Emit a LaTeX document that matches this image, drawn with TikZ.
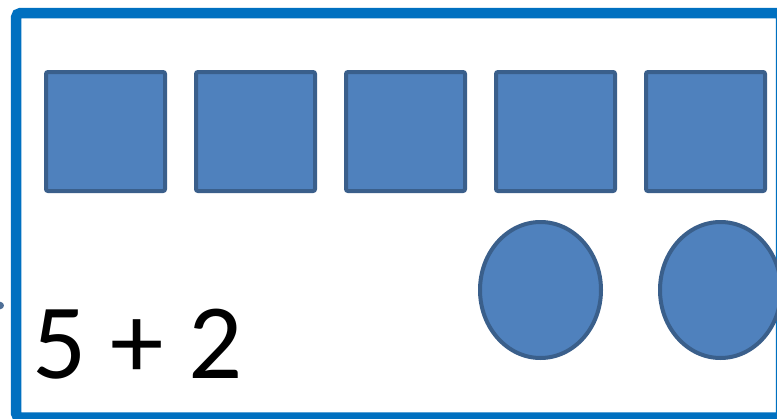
\documentclass[tikz,border=0pt]{standalone}
\usepackage{fontspec}
\setmainfont{Carlito}
\usetikzlibrary{shapes.geometric}
\definecolor{frameblue}{HTML}{0070C0}
\definecolor{shapefill}{HTML}{4F81BD}
\definecolor{shapeline}{HTML}{3A5F8B}
\tikzset{
  sq/.style={draw=shapeline, fill=shapefill, line width=4pt, rounded corners=2pt,
    minimum width=119pt, minimum height=119pt, inner sep=0pt, outer sep=0pt},
  ell/.style={ellipse, draw=shapeline, fill=shapefill, line width=4pt,
    minimum width=121pt, minimum height=136pt, inner sep=0pt, outer sep=0pt},
}
\begin{document}
\begin{tikzpicture}[x=1pt,y=-1pt]
\useasboundingbox (0,0) rectangle (777,418);
\clip (0,0) rectangle (777,418);
\fill[white] (0,0) rectangle (777,418);
% frame
\draw[frameblue, line width=10.5pt, rounded corners=4pt] (16.2,13.2) rectangle (781,417.5);
% small cut-off mark at left edge
\fill[shapeline!90] (-3,300.5) -- (2,302.5) .. controls (4.5,304) and (4.5,307) .. (2,308.5) -- (-3,310.5) -- cycle;
% squares
\foreach \i/\x in {1/105.5,2/255.5,3/405.5,4/555.5,5/705.5}
  \node[sq] (s\i) at (\x,131.5) {};
% circles
\node[ell] (c1) at (540.5,290) {};
\node[ell] (c2) at (720.5,290) {};
% text
\node[anchor=base west, inner sep=0pt, font=\fontsize{107}{107}\selectfont] (t) at (32,378) {5 + 2};
\end{tikzpicture}
\end{document}
